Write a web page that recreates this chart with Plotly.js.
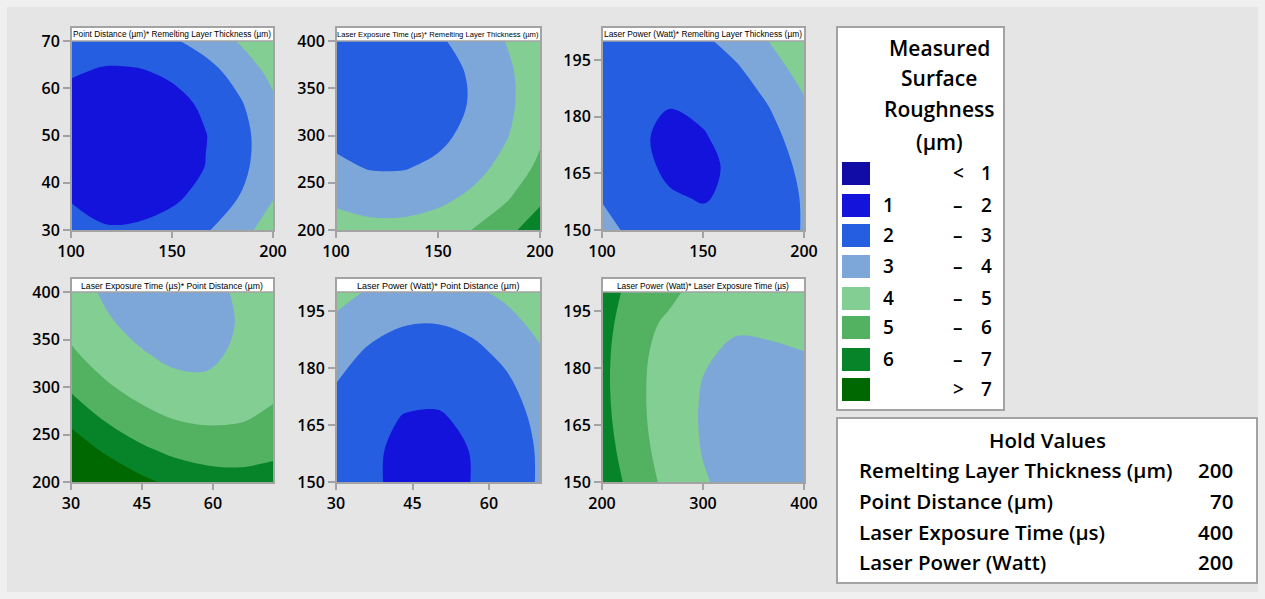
<!DOCTYPE html>
<html>
<head>
<meta charset="utf-8">
<script src="https://cdn.plot.ly/plotly-3.0.1.min.js"></script>
<style>
html,body{margin:0;padding:0;background:#f0f0f0;}
#chart{width:1265px;height:599px;}
</style>
</head>
<body>
<div id="chart"></div>
<script>
// ---------- data ----------
const panelTitles = [
  'Point Distance (µm)* Remelting Layer Thickness (µm)',
  'Laser Exposure Time (µs)* Remelting Layer Thickness (µm)',
  'Laser Power (Watt)* Remelting Layer Thickness (µm)',
  'Laser Exposure Time (µs)* Point Distance (µm)',
  'Laser Power (Watt)* Point Distance (µm)',
  'Laser Power (Watt)* Laser Exposure Time (µs)'
];

// Panel 1: x = Remelting Layer Thickness, y = Point Distance
const x1 = [100, 116.7, 133.3, 150, 166.7, 183.3, 200];
const y1 = [30, 36.7, 43.3, 50, 56.7, 63.3, 70];
const z1 = [
  [2.30, 2.11, 2.15, 2.42, 2.90, 3.60, 4.53],
  [1.95, 1.54, 1.58, 1.84, 2.33, 3.03, 3.96],
  [1.41, 1.23, 1.27, 1.53, 2.02, 2.72, 3.65],
  [1.36, 1.18, 1.22, 1.48, 1.97, 2.67, 3.60],
  [1.57, 1.39, 1.43, 1.69, 2.17, 2.88, 3.81],
  [2.10, 1.85, 1.89, 2.15, 2.64, 3.34, 4.27],
  [2.76, 2.58, 2.62, 2.88, 3.37, 4.07, 4.85]
];

// Panel 2: x = Remelting Layer Thickness, y = Laser Exposure Time
const x2 = [100, 116.7, 133.3, 150, 166.7, 183.3, 200];
const y2 = [200, 233.3, 266.7, 300, 333.3, 366.7, 400];
const z2 = [
  [4.55, 4.32, 4.32, 4.55, 5.01, 5.69, 6.60],
  [3.76, 3.53, 3.53, 3.76, 4.21, 4.89, 5.80],
  [3.17, 2.94, 2.94, 3.17, 3.63, 4.30, 5.21],
  [2.79, 2.56, 2.56, 2.79, 3.25, 3.92, 4.83],
  [2.62, 2.39, 2.39, 2.62, 3.07, 3.75, 4.66],
  [2.65, 2.42, 2.42, 2.65, 3.10, 3.78, 4.69],
  [2.88, 2.65, 2.65, 2.88, 3.34, 4.02, 4.93]
];

// Panel 3: x = Remelting Layer Thickness, y = Laser Power
const x3 = [100, 116.7, 133.3, 150, 166.7, 183.3, 200];
const y3 = [150, 158.3, 166.7, 175, 183.3, 191.7, 200];
const z3 = [
  [3.34, 2.72, 2.33, 2.16, 2.23, 2.53, 3.06],
  [2.95, 2.40, 2.06, 1.97, 2.10, 2.48, 3.08],
  [2.68, 2.17, 1.90, 1.88, 2.11, 2.55, 3.22],
  [2.53, 2.09, 1.89, 1.96, 2.24, 2.74, 3.48],
  [2.50, 2.15, 2.02, 2.14, 2.48, 3.05, 3.86],
  [2.59, 2.31, 2.26, 2.44, 2.85, 3.49, 4.36],
  [2.80, 2.59, 2.61, 2.85, 3.33, 4.04, 4.98]
];

// Panel 4: x = Point Distance, y = Laser Exposure Time
const x4 = [30, 37.1, 44.2, 51.35, 58.5, 65.6, 72.7];
const y4 = [200, 233.3, 266.7, 300, 333.3, 366.7, 400];
const z4 = [
  [8.92, 8.00, 7.29, 6.78, 6.48, 6.38, 6.50],
  [7.72, 6.87, 6.23, 5.80, 5.58, 5.56, 5.75],
  [6.69, 5.92, 5.36, 5.00, 4.85, 4.91, 5.18],
  [5.84, 5.15, 4.66, 4.25, 4.18, 4.45, 4.79],
  [5.17, 4.55, 4.10, 3.84, 3.82, 4.16, 4.58],
  [4.68, 4.12, 3.78, 3.67, 3.75, 4.04, 4.54],
  [4.36, 3.90, 3.64, 3.59, 3.74, 4.11, 4.68]
];

// Panel 5: x = Point Distance, y = Laser Power
const x5 = [30, 36.67, 43.33, 50, 56.67, 63.33, 70];
const y5 = [150, 158.3, 166.7, 175, 183.3, 191.7, 200];
const z5 = [
  [2.59, 2.10, 1.84, 1.81, 2.01, 2.44, 3.10],
  [2.59, 2.11, 1.85, 1.82, 2.02, 2.45, 3.11],
  [2.72, 2.23, 1.96, 1.93, 2.14, 2.57, 3.23],
  [2.96, 2.47, 2.21, 2.18, 2.38, 2.81, 3.47],
  [3.31, 2.83, 2.57, 2.54, 2.74, 3.17, 3.83],
  [3.79, 3.30, 3.04, 3.01, 3.21, 3.64, 4.30],
  [4.37, 3.89, 3.63, 3.60, 3.80, 4.23, 4.89]
];

// Panel 6: x = Laser Exposure Time, y = Laser Power
const x6 = [200, 233.3, 266.7, 300, 333.3, 366.7, 400];
const y6 = [150, 158.3, 166.7, 175, 183.3, 191.7, 200];
const z6 = [
  [6.69, 5.57, 4.70, 4.08, 3.70, 3.57, 3.69],
  [6.46, 5.38, 4.55, 3.96, 3.62, 3.53, 3.68],
  [6.31, 5.27, 4.47, 3.92, 3.62, 3.56, 3.75],
  [6.24, 5.24, 4.48, 3.96, 3.70, 3.68, 3.91],
  [6.25, 5.28, 4.56, 4.08, 3.86, 3.87, 3.97],
  [6.34, 5.41, 4.80, 4.28, 4.09, 4.15, 4.20],
  [6.51, 5.61, 5.25, 4.56, 4.41, 4.50, 4.70]
];

const xRanges = [[100, 200], [100, 200], [100, 200], [30, 72.7], [30, 70], [200, 400]];
const yRanges = [[30, 70], [200, 400], [150, 200], [200, 400], [150, 200], [150, 200]];
const xTicks = [[100, 150, 200], [100, 150, 200], [100, 150, 200], [30, 45, 60], [30, 45, 60], [200, 300, 400]];
const yTicks = [[30, 40, 50, 60, 70], [200, 250, 300, 350, 400], [150, 165, 180, 195],
                [200, 250, 300, 350, 400], [150, 165, 180, 195], [150, 165, 180, 195]];

const legendTitle = ['Measured', 'Surface', 'Roughness', '(µm)'];
const legendLow = ['', '1', '2', '3', '4', '5', '6', ''];
const legendSym = ['<', '–', '–', '–', '–', '–', '–', '>'];
const legendHigh = ['1', '2', '3', '4', '5', '6', '7', '7'];

const holdTitle = 'Hold Values';
const holdNames = ['Remelting Layer Thickness (µm)', 'Point Distance (µm)', 'Laser Exposure Time (µs)', 'Laser Power (Watt)'];
const holdValues = ['200', '70', '400', '200'];

// ---------- styling / layout ----------
const W = 1265, H = 599;
const px = v => v / W;
const py = v => 1 - v / H;

const levelColors = ['#110ca6', '#1313dc', '#255ee0', '#7ea7d9', '#82ce93', '#53b162', '#078429', '#006800'];
const colorscale = levelColors.map((c, i) => [i / 7, c]);

const colsPx = [[71, 273], [336, 540], [602, 804]];
const rowsPx = [[41, 230], [292, 482]];
const stripTop = [27, 278];
const stripFontSize = [8.3, 7.6, 8.4, 8.7, 9.0, 8.3];
const frameColor = '#a3a3a3';
const FONT = 'Open Sans, Noto Sans, sans-serif';
const W6 = 600;

const X = [x1, x2, x3, x4, x5, x6];
const Y = [y1, y2, y3, y4, y5, y6];
const Z = [z1, z2, z3, z4, z5, z6];

const traces = [];
const layout = {
  width: W, height: H,
  margin: {l: 0, r: 0, t: 0, b: 0},
  paper_bgcolor: '#f0f0f0',
  plot_bgcolor: '#ffffff',
  showlegend: false,
  shapes: [],
  annotations: [],
  font: {family: FONT, color: '#000'}
};

layout.shapes.push({type: 'rect', xref: 'paper', yref: 'paper', layer: 'below',
  x0: px(7), x1: px(1258), y0: py(592), y1: py(7), fillcolor: '#e5e5e5', line: {width: 0}});

for (let k = 0; k < 6; k++) {
  const col = k % 3, row = Math.floor(k / 3);
  const sx = k === 0 ? '' : String(k + 1);
  const [c0, c1] = colsPx[col];
  const [r0, r1] = rowsPx[row];
  traces.push({
    type: 'contour', x: X[k], y: Y[k], z: Z[k],
    xaxis: 'x' + sx, yaxis: 'y' + sx,
    colorscale: colorscale, showscale: false, hoverinfo: 'skip',
    contours: {start: 1, end: 7, size: 1, coloring: 'fill', showlines: false},
    line: {width: 0, smoothing: 1}
  });
  const axBase = {
    ticks: 'outside', ticklen: 7, tickwidth: 2, tickcolor: frameColor,
    showgrid: false, zeroline: false, showline: false, fixedrange: true,
    tickfont: {size: 16, color: '#000', family: FONT, weight: W6}
  };
  layout['xaxis' + sx] = Object.assign({}, axBase, {
    domain: [px(c0), px(c1)], range: xRanges[k], tickmode: 'array', tickvals: xTicks[k],
    anchor: 'y' + sx
  });
  layout['yaxis' + sx] = Object.assign({}, axBase, {
    domain: [py(r1), py(r0)], range: yRanges[k], tickmode: 'array', tickvals: yTicks[k],
    anchor: 'x' + sx
  });
  layout.shapes.push({type: 'rect', xref: 'paper', yref: 'paper', layer: 'above',
    x0: px(c0), x1: px(c1 + 1), y0: py(r0), y1: py(stripTop[row]),
    fillcolor: '#ffffff', line: {color: frameColor, width: 1.5}});
  layout.shapes.push({type: 'rect', xref: 'paper', yref: 'paper', layer: 'above',
    x0: px(c0), x1: px(c1 + 1), y0: py(r1 + 1), y1: py(stripTop[row]),
    fillcolor: 'rgba(0,0,0,0)', line: {color: frameColor, width: 2}});
  layout.annotations.push({xref: 'paper', yref: 'paper', x: px((c0 + c1) / 2), y: py((stripTop[row] + r0) / 2 + 0.5),
    xanchor: 'center', yanchor: 'middle', showarrow: false, text: panelTitles[k],
    font: {size: stripFontSize[k], family: 'Liberation Sans, Arial, sans-serif', color: '#000'}});
}

// legend box
layout.shapes.push({type: 'rect', xref: 'paper', yref: 'paper', layer: 'above',
  x0: px(837), x1: px(1004), y0: py(410), y1: py(27), fillcolor: '#ffffff', line: {color: frameColor, width: 2}});
const titleY = [48, 78, 109, 142];
legendTitle.forEach((t, i) => layout.annotations.push({xref: 'paper', yref: 'paper', x: px(939), y: py(titleY[i]),
  xanchor: 'center', yanchor: 'middle', showarrow: false, text: t, font: {size: 21, family: FONT, color: '#000', weight: W6}}));
const swTop = [162, 194, 224, 255, 287, 316, 348, 378];
levelColors.forEach((c, i) => {
  layout.shapes.push({type: 'rect', xref: 'paper', yref: 'paper', layer: 'above',
    x0: px(842), x1: px(870), y0: py(swTop[i] + 23), y1: py(swTop[i]), fillcolor: c, line: {width: 0}});
  const yc = py(swTop[i] + 11);
  const f = {size: 19, family: FONT, color: '#000', weight: W6};
  if (legendLow[i]) layout.annotations.push({xref: 'paper', yref: 'paper', x: px(888), y: yc, xanchor: 'center', yanchor: 'middle', showarrow: false, text: legendLow[i], font: f});
  layout.annotations.push({xref: 'paper', yref: 'paper', x: px(958), y: yc, xanchor: 'center', yanchor: 'middle', showarrow: false, text: legendSym[i], font: f});
  layout.annotations.push({xref: 'paper', yref: 'paper', x: px(986), y: yc, xanchor: 'center', yanchor: 'middle', showarrow: false, text: legendHigh[i], font: f});
});

// hold values box
layout.shapes.push({type: 'rect', xref: 'paper', yref: 'paper', layer: 'above',
  x0: px(837), x1: px(1257), y0: py(583), y1: py(418), fillcolor: '#ffffff', line: {color: frameColor, width: 2}});
layout.annotations.push({xref: 'paper', yref: 'paper', x: px(1047), y: py(440), xanchor: 'center', yanchor: 'middle',
  showarrow: false, text: holdTitle, font: {size: 20.5, family: FONT, color: '#000', weight: W6}});
const holdY = [470, 501, 532, 562];
holdNames.forEach((n, i) => {
  layout.annotations.push({xref: 'paper', yref: 'paper', x: px(857), y: py(holdY[i]), xanchor: 'left', yanchor: 'middle',
    showarrow: false, text: n, font: {size: 20.5, family: FONT, color: '#000', weight: W6}});
  layout.annotations.push({xref: 'paper', yref: 'paper', x: px(1235), y: py(holdY[i]), xanchor: 'right', yanchor: 'middle',
    showarrow: false, text: holdValues[i], font: {size: 20.5, family: FONT, color: '#000', weight: W6}});
});

Plotly.newPlot('chart', traces, layout, {staticPlot: true, displayModeBar: false});
</script>
</body>
</html>
